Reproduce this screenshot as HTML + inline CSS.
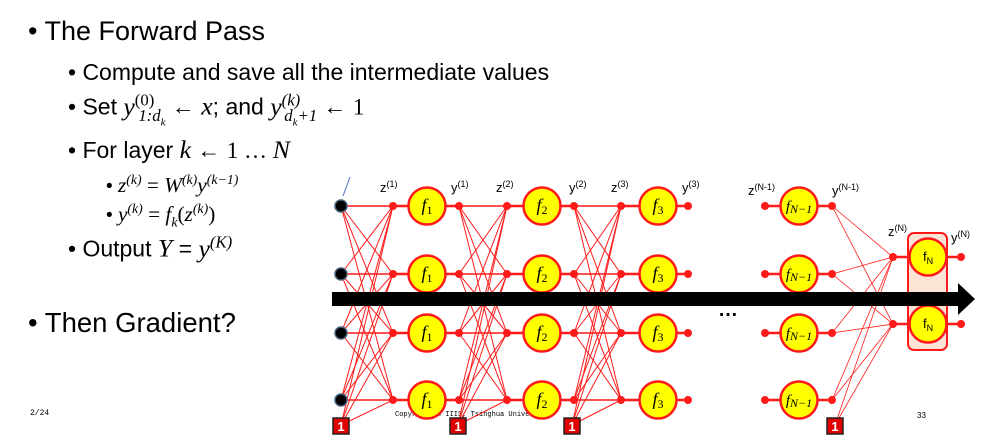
<!DOCTYPE html>
<html><head><meta charset="utf-8"><style>
body{margin:0;width:991px;height:438px;background:#fff;overflow:hidden;position:relative;font-family:"Liberation Sans",sans-serif}
.t{position:absolute;white-space:nowrap;color:#000}
.m{font-family:"Liberation Serif",serif;font-style:italic;font-size:112%}
.n{font-family:"Liberation Serif",serif;font-style:normal}
sup,sub{font-size:65%}
</style></head><body>
<div class="t" style="left:28px;top:16px;font-size:27px">• The Forward Pass</div>
<div class="t" style="left:68px;top:59px;font-size:23px">• Compute and save all the intermediate values</div>
<div class="t" style="left:68px;top:90px;font-size:23px">• Set <span class="m">y<sup class="n">(0)</sup><sub style="margin-left:-16px">1:d<sub>k</sub></sub></span> ← <span class="m">x</span>; and <span class="m">y<sup>(k)</sup><sub style="margin-left:-16px">d<sub>k</sub>+1</sub></span> ← <span class="n">1</span></div>
<div class="t" style="left:68px;top:135px;font-size:23px">• For layer <span class="m">k</span> ← <span class="n">1 … </span><span class="m">N</span></div>
<div class="t" style="left:106px;top:172px;font-size:19px">• <span class="m">z<sup>(k)</sup> <span class="n">=</span> W<sup>(k)</sup>y<sup>(k−1)</sup></span></div>
<div class="t" style="left:106px;top:201px;font-size:19px">• <span class="m">y<sup>(k)</sup> <span class="n">=</span> f<sub>k</sub><span class="n">(</span>z<sup>(k)</sup><span class="n">)</span></span></div>
<div class="t" style="left:68px;top:232px;font-size:23px">• Output <span class="m">Y</span> = <span class="m">y<sup>(K)</sup></span></div>
<div class="t" style="left:28px;top:307px;font-size:27.5px">• Then Gradient?</div>
<div class="t" style="left:30px;top:409px;font-size:8px;font-family:'Liberation Mono',monospace">2/24</div>
<div class="t" style="left:395px;top:411px;font-size:7px;font-family:'Liberation Mono',monospace">Copyright © IIIS, Tsinghua University</div>
<div class="t" style="left:917px;top:411px;font-size:8px">33</div>
<svg id="net" width="991" height="438" style="position:absolute;left:0;top:0"></svg>
<script>
const rows=[206,274,333,400];
const NS="http://www.w3.org/2000/svg";
const svg=document.getElementById('net');
function el(tag,a,txt){const e=document.createElementNS(NS,tag);for(const k in a)e.setAttribute(k,a[k]);if(txt!=null)e.textContent=txt;svg.appendChild(e);return e;}
function ts(p,txt,a){const s=document.createElementNS(NS,'tspan');for(const k in a)s.setAttribute(k,a[k]);s.textContent=txt;p.appendChild(s);return s;}
const R="#ff1a1a";
const layers=[[341,393],[459,507],[574,621]];
const biasX=[341,458,572];
layers.forEach((L,i)=>{
  rows.forEach(a=>rows.forEach(b=>{const l=el('line',{x1:L[0],y1:a,x2:L[1],y2:b,stroke:R,'stroke-width':a===b?1.6:1});}));
  rows.forEach(b=>{const l=el('line',{x1:biasX[i],y1:425,x2:L[1],y2:b,stroke:R,'stroke-width':1});});
});
const zN=[257,324];
rows.forEach(a=>zN.forEach(b=>{const l=el('line',{x1:832,y1:a,x2:893,y2:b,stroke:R,'stroke-width':0.8});}));
zN.forEach(b=>{const l=el('line',{x1:835,y1:425,x2:893,y2:b,stroke:R,'stroke-width':0.8});});
function neuron(zx,cx,yx,y,sub){
  el('line',{x1:zx,y1:y,x2:yx,y2:y,stroke:R,'stroke-width':2.5});
  el('circle',{cx:zx,cy:y,r:4,fill:R});
  el('circle',{cx:yx,cy:y,r:4,fill:R});
  const c=el('circle',{cx:cx,cy:y,r:18.5,fill:'#ffff00',stroke:R,'stroke-width':2.5});
  
  const t=el('text',{x:cx,y:y+5,'text-anchor':'middle','font-family':'Liberation Serif, serif','font-style':'italic','font-size':sub.length>1?15:18},'f');
  ts(t,sub,{'font-size':sub.length>1?12:12,dy:sub.length>1?2:3,'font-style':sub.length>1?'italic':'normal'});
}
rows.forEach(y=>{
  neuron(393,427,459,y,'1');neuron(507,542,574,y,'2');neuron(621,658,688,y,'3');neuron(765,799,832,y,'N−1');
});
const bx=el('rect',{x:908,y:233,width:39,height:117,rx:6,fill:'#fbe3d6',stroke:R,'stroke-width':2});

zN.forEach(y=>{
  el('line',{x1:893,y1:y,x2:961,y2:y,stroke:R,'stroke-width':2.5});
  el('circle',{cx:893,cy:y,r:4,fill:R});el('circle',{cx:961,cy:y,r:4,fill:R});
  el('circle',{cx:928,cy:y,r:18.5,fill:'#ffff00',stroke:R,'stroke-width':2.5});
  const t=el('text',{x:928,y:y+4,'text-anchor':'middle','font-size':13},'f');ts(t,'N',{'font-size':9,dy:3});
});
rows.forEach(y=>{const c=el('circle',{cx:341,cy:y,r:6,fill:'#000',stroke:'#44607a','stroke-width':1.5});});
el('line',{x1:350,y1:177,x2:343,y2:196,stroke:'#4472c4','stroke-width':1});
[341,458,572,835].forEach(x=>{
  const r=el('rect',{x:x-8,y:418,width:16,height:16,fill:'#e00000',stroke:'#222','stroke-width':1.5});
  
  el('text',{x:x,y:431,'text-anchor':'middle',fill:'#fff','font-size':13,'font-weight':'bold'},'1');
});
const ar=el('polygon',{points:'332,292 958,292 958,283 975,299 958,315 958,306 332,306',fill:'#000'});

el('text',{x:718,y:316,'font-size':20,'font-weight':'bold'},'…');
[['z',380,1],['y',451,1],['z',496,2],['y',569,2],['z',611,3],['y',682,3]].forEach(d=>{
  const t=el('text',{x:d[1],y:192,'font-size':13},d[0]);ts(t,'('+d[2]+')',{dy:-5,'font-size':9});
});
[['z','(N-1)',748,195],['y','(N-1)',832,195],['z','(N)',888,236],['y','(N)',951,242]].forEach(d=>{
  const t=el('text',{x:d[2],y:d[3],'font-size':13},d[0]);ts(t,d[1],{dy:-5,'font-size':9});
});
</script>
</body></html>
